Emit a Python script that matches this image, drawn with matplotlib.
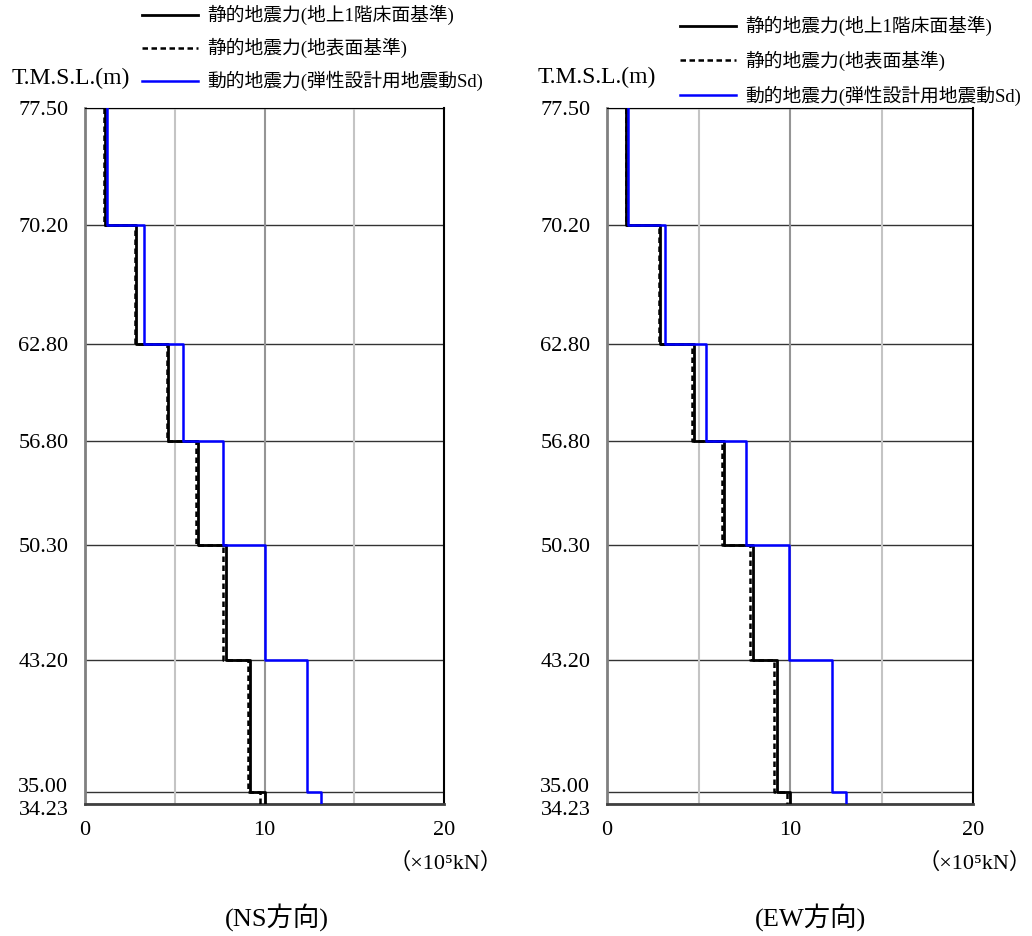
import matplotlib
matplotlib.use('Agg')
import matplotlib.pyplot as plt
import matplotlib.transforms as mtransforms
import numpy as np

plt.rcParams['font.family'] = ['Liberation Serif', 'Noto Sans CJK JP']

# elevations T.M.S.L. (m), top to bottom
elev = [77.50, 70.20, 62.80, 56.80, 50.30, 43.20, 35.00, 34.23]
elev_labels = ['77.50', '70.20', '62.80', '56.80', '50.30', '43.20', '35.00', '34.23']

# shear force per story (x10^5 kN), top story first
static_floor_ns = [1.10, 2.83, 4.63, 6.30, 7.87, 9.22, 10.00]
static_ground_ns = [1.08, 2.78, 4.57, 6.20, 7.69, 9.07, 9.76]
dynamic_ns = [1.20, 3.26, 5.48, 7.68, 10.00, 12.37, 13.15]

static_floor_ew = [1.06, 2.90, 4.73, 6.37, 7.96, 9.30, 10.00]
static_ground_ew = [1.04, 2.85, 4.67, 6.28, 7.84, 9.15, 9.83]
dynamic_ew = [1.13, 3.19, 5.39, 7.62, 9.92, 12.27, 13.08]

series_names = ['静的地震力(地上1階床面基準)', '静的地震力(地表面基準)', '動的地震力(弾性設計用地震動Sd)']
x_ticks = [0, 10, 20]
panel_titles = ['(NS方向)', '(EW方向)']


def steps(vals):
    # vertical step line: each story value held between its two floor levels
    x = np.repeat(vals, 2)
    y = np.repeat(elev, 2)[1:-1]
    return x, y


def draw_panel(ax, floor_vals, ground_vals, dyn_vals):
    for e in elev:
        ax.axhline(e, color='#333333', lw=1.0, zorder=1)
    ax.axvline(5, color='#c4c4c4', lw=1.5, zorder=1)
    ax.axvline(10, color='#959595', lw=1.5, zorder=1)
    ax.axvline(15, color='#c4c4c4', lw=1.5, zorder=1)

    x, y = steps(floor_vals)
    l1, = ax.plot(x, y, color='black', lw=2.0, zorder=3)
    x, y = steps(ground_vals)
    l2, = ax.plot(x, y, color='black', lw=1.8, ls=(0, (2.2, 1.4)), zorder=3)
    x, y = steps(dyn_vals)
    l3, = ax.plot(x, y, color='#0000ff', lw=1.8, zorder=4)

    ax.set_xlim(0, 20)
    ax.set_ylim(elev[-1], elev[0])
    ax.set_xticks(x_ticks)
    ax.set_xticklabels([str(t) for t in x_ticks])
    ax.set_yticks(elev)
    ax.set_yticklabels(elev_labels)
    ax.tick_params(axis='both', length=0, labelsize=16)
    ax.tick_params(axis='x', pad=12)
    ax.tick_params(axis='y', pad=12)
    # the two bottom levels are close together: nudge their labels apart
    labels = ax.get_yticklabels()
    labels[-2].set_transform(labels[-2].get_transform() +
                             mtransforms.ScaledTranslation(0, 7 / 100, ax.figure.dpi_scale_trans))
    labels[-1].set_transform(labels[-1].get_transform() +
                             mtransforms.ScaledTranslation(0, -4 / 100, ax.figure.dpi_scale_trans))
    ax.spines['left'].set_color('#808080')
    ax.spines['left'].set_linewidth(2)
    ax.spines['bottom'].set_color('#404040')
    ax.spines['bottom'].set_linewidth(2)
    ax.spines['top'].set_color('black')
    ax.spines['right'].set_color('black')
    ax.spines['right'].set_linewidth(1.5)
    ax.text(1.005, -0.085, '（×10⁵kN）', transform=ax.transAxes, ha='center', va='center',
            fontsize=16)
    return [l1, l2, l3]


W, H = 1032, 936
fig = plt.figure(figsize=(W / 100, H / 100), dpi=100)
ax1 = fig.add_axes([85 / W, 132 / H, 359 / W, 696.5 / H])
ax2 = fig.add_axes([607 / W, 132 / H, 366 / W, 696.5 / H])

h1 = draw_panel(ax1, static_floor_ns, static_ground_ns, dynamic_ns)
h2 = draw_panel(ax2, static_floor_ew, static_ground_ew, dynamic_ew)

fig.legend(h1, series_names, loc='upper left', bbox_to_anchor=(142 / W, 1 - 5 / H),
           frameon=False, fontsize=13.5, handlelength=3.0, handletextpad=0.5,
           labelspacing=0.68, borderpad=0, borderaxespad=0)
fig.legend(h2, series_names, loc='upper left', bbox_to_anchor=(680 / W, 1 - 16 / H),
           frameon=False, fontsize=13.5, handlelength=3.0, handletextpad=0.5,
           labelspacing=0.78, borderpad=0, borderaxespad=0)

fig.text(12 / W, 1 - 78 / H, 'T.M.S.L.(m)', fontsize=17, ha='left', va='center')
fig.text(538 / W, 1 - 77 / H, 'T.M.S.L.(m)', fontsize=17, ha='left', va='center')

fig.text(277 / W, 1 - 917 / H, panel_titles[0], fontsize=19, ha='center', va='center')
fig.text(810 / W, 1 - 917 / H, panel_titles[1], fontsize=19, ha='center', va='center')

plt.savefig('out.png', dpi=100)
